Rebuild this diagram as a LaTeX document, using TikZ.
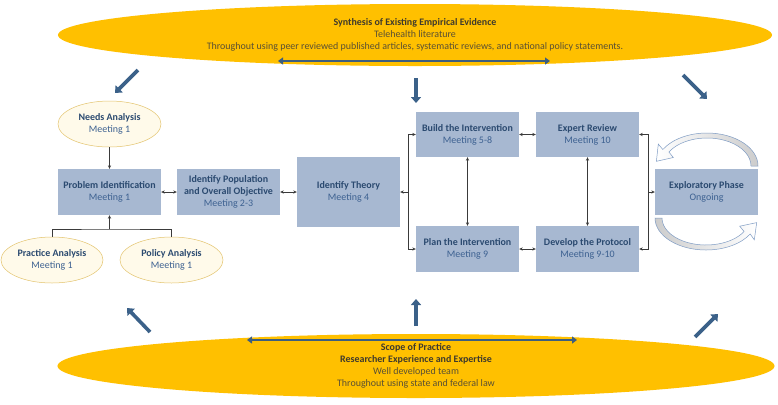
\documentclass[tikz,border=0pt]{standalone}
\usepackage{fontspec}
\setmainfont{Carlito}
\usetikzlibrary{shapes.geometric,arrows.meta}
\definecolor{boxfill}{HTML}{A7B8D1}
\definecolor{titleblue}{HTML}{2B4A70}
\definecolor{meetblue}{HTML}{3D6191}
\definecolor{ovalfill}{HTML}{FFFAEA}
\definecolor{ovalline}{HTML}{E3C46E}
\definecolor{conline}{HTML}{3A3A3A}
\definecolor{arrowblue}{HTML}{3B6189}
\definecolor{spanblue}{HTML}{3D5E7F}
\definecolor{gold}{HTML}{FFC000}
\definecolor{goldtitle}{HTML}{3F3A2C}
\definecolor{goldtext}{HTML}{5A5033}
\definecolor{curveblue}{HTML}{7F9CC4}
\newcommand{\boxttl}[1]{{\bfseries\color{titleblue}#1}}
\newcommand{\boxmtg}[1]{{\color{meetblue}#1}}
\tikzset{
 box/.style={rectangle, fill=boxfill, minimum width=103bp, minimum height=46bp, inner sep=0pt, align=center, font=\fontsize{10}{12}\selectfont},
 oval/.style={ellipse, fill=ovalfill, draw=ovalline, line width=0.5bp, minimum width=103bp, minimum height=46bp, inner sep=0pt, align=center, font=\fontsize{10}{12}\selectfont},
 con/.style={draw=conline, line width=0.6bp, arrows={-Stealth[length=3.5bp,width=3.2bp]}},
 dcon/.style={draw=conline, line width=0.6bp, arrows={Stealth[length=3.5bp,width=3.2bp]-Stealth[length=3.5bp,width=3.2bp]}},
 plainline/.style={draw=conline, line width=0.6bp},
 bigarrow/.style={draw=arrowblue, line width=3.6bp, arrows={-Triangle[length=6bp,width=10bp]}},
 spanarrow/.style={draw=spanblue, line width=2.6bp, arrows={Triangle[length=5bp,width=7bp]-Triangle[length=5bp,width=7bp]}},
 bigoval/.style={ellipse, fill=gold, inner sep=0pt, align=center, font=\fontsize{10}{12}\selectfont, text=goldtext}
}
\begin{document}
\begin{tikzpicture}[x=1bp,y=-1bp]
\useasboundingbox[fill=white] (0,0) rectangle (778,404);

% big ellipses
\node[bigoval, minimum width=714bp, minimum height=62bp] (synth) at (415,35)
 {{\bfseries\color{goldtitle}Synthesis of Existing Empirical Evidence}\\
  Telehealth literature\\
  Throughout using peer reviewed published articles, systematic reviews, and national policy statements.};
\node[bigoval, minimum width=717bp, minimum height=64bp] (scope) at (416,366)
 {{\bfseries\color{goldtitle}Scope of Practice}\\
  {\bfseries\color{goldtitle}Researcher Experience and Expertise}\\
  Well developed team\\
  Throughout using state and federal law};

% span arrows
\coordinate (s1) at (278,61); \coordinate (s2) at (550,61);
\draw[spanarrow] (s1) -- (s2);
\coordinate (s3) at (247,340); \coordinate (s4) at (577,340);
\draw[spanarrow] (s3) -- (s4);

% thick arrows
\coordinate (a1s) at (138,70);  \coordinate (a1e) at (115,93);
\coordinate (a2s) at (416,78);  \coordinate (a2e) at (416,103);
\coordinate (a3s) at (683,75);  \coordinate (a3e) at (707,99);
\coordinate (a4s) at (150,332); \coordinate (a4e) at (127,308);
\coordinate (a5s) at (416,326); \coordinate (a5e) at (416,299);
\coordinate (a6s) at (695,337); \coordinate (a6e) at (718,314);
\draw[bigarrow] (a1s) -- (a1e);
\draw[bigarrow] (a2s) -- (a2e);
\draw[bigarrow] (a3s) -- (a3e);
\draw[bigarrow] (a4s) -- (a4e);
\draw[bigarrow] (a5s) -- (a5e);
\draw[bigarrow] (a6s) -- (a6e);

% ovals
\node[oval] (needs) at (109.5,124) {\boxttl{Needs Analysis}\\\boxmtg{Meeting 1}};
\node[oval, minimum width=102bp] (practice) at (52,260) {\boxttl{Practice Analysis}\\\boxmtg{Meeting 1}};
\node[oval] (policy) at (171.5,260) {\boxttl{Policy Analysis}\\\boxmtg{Meeting 1}};

% boxes
\node[box] (prob) at (109.5,192) {\boxttl{Problem Identification}\\\boxmtg{Meeting 1}};
\node[box] (pop) at (228.5,192) {\boxttl{Identify Population}\\\boxttl{and Overall Objective}\\\boxmtg{Meeting 2-3}};
\node[box, minimum height=70bp] (theory) at (348.5,192) {\boxttl{Identify Theory}\\\boxmtg{Meeting 4}};
\node[box, minimum height=45bp] (build) at (467.5,134.5) {\boxttl{Build the Intervention}\\\boxmtg{Meeting 5-8}};
\node[box] (plan) at (467.5,249) {\boxttl{Plan the Intervention}\\\boxmtg{Meeting 9}};
\node[box, minimum height=45bp] (expert) at (587.5,134.5) {\boxttl{Expert Review}\\\boxmtg{Meeting 10}};
\node[box] (develop) at (587.5,249) {\boxttl{Develop the Protocol}\\\boxmtg{Meeting 9-10}};
\node[box] (explore) at (706.5,192) {\boxttl{Exploratory Phase}\\\boxmtg{Ongoing}};

% connectors
\draw[con] (needs.south) -- (prob.north);
\coordinate (join) at (109.5,229);
\draw[plainline] (practice.north) |- (join) -| (policy.north);
\draw[con] (join) -- (prob.south);
\draw[dcon] (prob.east) -- (pop.west);
\draw[dcon] (pop.east) -- (theory.west);
\coordinate (tb) at (408,192);
\draw[con] (tb) -- (theory.east);
\draw[con] (tb) |- (build.west);
\draw[con] (tb) |- (plan.west);
\draw[dcon] (build.south) -- (plan.north);
\draw[dcon] (build.east) -- (expert.west);
\draw[dcon] (plan.east) -- (develop.west);
\draw[dcon] (expert.south) -- (develop.north);
\coordinate (eb) at (648,192);
\draw[con] (eb) -- (explore.west);
\draw[con] (eb) |- (expert.east);
\draw[con] (eb) |- (develop.east);

% curved cycle arrows
\path[left color=white, right color=gray!40, draw=curveblue, line width=0.5bp]
 (758,166) arc[start angle=0, end angle=-150, x radius=51, y radius=33]
 -- (658.3,144.1) -- (656.4,161.3) -- (673.3,157.5)
 -- (668.9,152) arc[start angle=-150, end angle=0, x radius=44, y radius=28] -- cycle;
\path[left color=gray!40, right color=white, draw=curveblue, line width=0.5bp]
 (655,218) arc[start angle=180, end angle=30, x radius=51, y radius=32]
 -- (754.3,239.8) -- (756.7,222.6) -- (739.7,226.2)
 -- (744.1,231.5) arc[start angle=30, end angle=180, x radius=44, y radius=27] -- cycle;
\end{tikzpicture}
\end{document}
